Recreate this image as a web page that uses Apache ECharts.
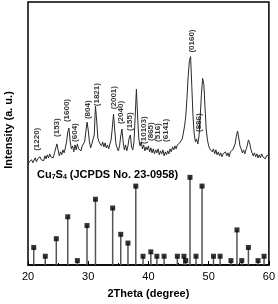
<!DOCTYPE html>
<html><head><meta charset="utf-8">
<script src="https://cdn.jsdelivr.net/npm/echarts@6/dist/echarts.min.js"></script>
<style>html,body{margin:0;padding:0;background:#fff}#c{width:278px;height:304px}</style>
</head><body><div id="c"></div>
<script>
// Measured XRD pattern (2θ from 20° to 60°, 0.2° steps), arbitrary units
const xrdStart = 20, xrdStep = 0.2;
const xrdIntensity = [
101,104,102,106,103,105,108,104,107,105,
109,106,108,105,110,107,111,108,112,109,
111,108,113,112,122,116,110,114,111,116,
113,118,124,134,138,125,117,120,114,121,
116,122,117,119,115,120,118,124,134,144,
136,124,118,122,120,131,160,146,128,124,
126,120,124,119,123,118,121,117,122,126,
138,152,136,122,118,115,120,130,137,124,
116,121,115,120,128,131,119,116,124,150,
177,150,127,120,124,117,121,115,119,116,
120,114,118,113,117,112,116,113,117,111,
115,112,116,110,114,111,115,112,117,114,
119,116,120,117,121,119,123,124,127,133,
140,150,168,190,206,210,180,150,132,124,
127,122,130,150,172,188,182,158,136,126,
120,117,119,114,117,112,116,111,114,110,
113,109,112,110,114,110,113,109,114,112,
116,118,122,130,135,128,120,117,113,116,
112,116,120,126,123,117,113,110,113,109,
112,108,111,108,112,109,111,107,110,108,
111
];
// JCPDS 23-0958 reference lines (relative intensity)
const stickAngles = [20.95,22.87,24.7,26.6,28.2,29.8,31.2,34.06,35.4,36.6,37.9,39.1,40.4,41.4,42.6,44.8,45.9,46.2,46.9,47.9,48.9,50.8,51.9,53.7,54.7,55.5,56.6,58.2,59.2];
const stickIntensities = [20,10,30,55,5,45,75,65,35,25,90,10,15,10,10,10,10,5,100,10,90,10,10,5,40,5,20,5,10];
// Peak index labels
const peakLabels = ['(1220)','(153)','(1600)','(604)','(804)','(1821)','(2001)','(2040)','(155)','(10103)','(865)','(516)','(6141)','(0160)','(886)'];
const peakLabelAngles = [21.38,24.81,26.36,27.85,29.96,31.45,34.27,35.49,36.88,39.25,40.37,41.58,42.85,47.17,48.38];
const peakLabelHeights = [115,129,144,124,147,160,157,142,135,122,125,124,124,214,134];
const xTicks = [20,30,40,50,60];

const FONT = '"Liberation Sans", Arial, sans-serif';
const xrdData = xrdIntensity.map((v,i)=>[+(xrdStart + i*xrdStep).toFixed(2), v]);
const stickData = stickAngles.map((a,i)=>[a, stickIntensities[i]]);
const labelData = peakLabels.map((t,i)=>({name:t, value:[peakLabelAngles[i], peakLabelHeights[i]]}));

const chart = echarts.init(document.getElementById('c'), null, {renderer:'canvas'});
chart.setOption({
  animation:false,
  backgroundColor:'#fff',
  grid:{left:28,right:8,top:2,bottom:37,show:true,borderColor:'#000',borderWidth:1.5,backgroundColor:'transparent'},
  xAxis:{type:'value',min:xTicks[0],max:xTicks[xTicks.length-1],interval:10,
    axisLine:{show:true,lineStyle:{color:'#000',width:1.5}},
    axisTick:{show:true,inside:true,length:4,lineStyle:{color:'#000'}},
    minorTick:{show:true,splitNumber:2,length:2,lineStyle:{color:'#000'}},
    splitLine:{show:false},
    axisLabel:{color:'#000',fontSize:11,fontFamily:FONT,margin:6},
    name:'2Theta (degree)',nameLocation:'middle',nameGap:23,
    nameTextStyle:{color:'#000',fontSize:11,fontWeight:'bold',fontFamily:FONT}},
  yAxis:[
    {type:'value',min:0,max:265,show:false,splitLine:{show:false}},
    {type:'value',min:0,max:300,show:false,splitLine:{show:false}}
  ],
  graphic:[
    {type:'text',x:9,y:130,rotation:Math.PI/2,
     style:{text:'Intensity (a. u.)',font:'bold 11px '+FONT,fill:'#000',align:'center',verticalAlign:'middle'}},
    {type:'text',x:37,y:175,
     style:{text:'Cu{s|7}S{s|4} (JCPDS No. 23-0958)',font:'bold 11px '+FONT,fill:'#000',verticalAlign:'middle',
       rich:{s:{fontSize:7,fontWeight:'bold',fontFamily:FONT,fill:'#000',verticalAlign:'bottom',padding:[5,0,0,0]}}}}
  ],
  series:[
    {type:'line',data:xrdData,yAxisIndex:0,symbol:'none',lineStyle:{color:'#2a2a2a',width:1},z:3},
    {type:'bar',data:stickData,yAxisIndex:1,barWidth:1.5,itemStyle:{color:'#555'},z:2},
    {type:'scatter',data:stickData,yAxisIndex:1,symbol:'rect',symbolSize:5,itemStyle:{color:'#000'},z:4},
    {type:'scatter',data:labelData,yAxisIndex:0,symbolSize:0,z:5,
     label:{show:true,position:'inside',rotate:90,align:'left',verticalAlign:'middle',formatter:'{b}',
       color:'#000',fontSize:8,fontWeight:'bold',fontFamily:FONT}}
  ]
});
</script></body></html>
